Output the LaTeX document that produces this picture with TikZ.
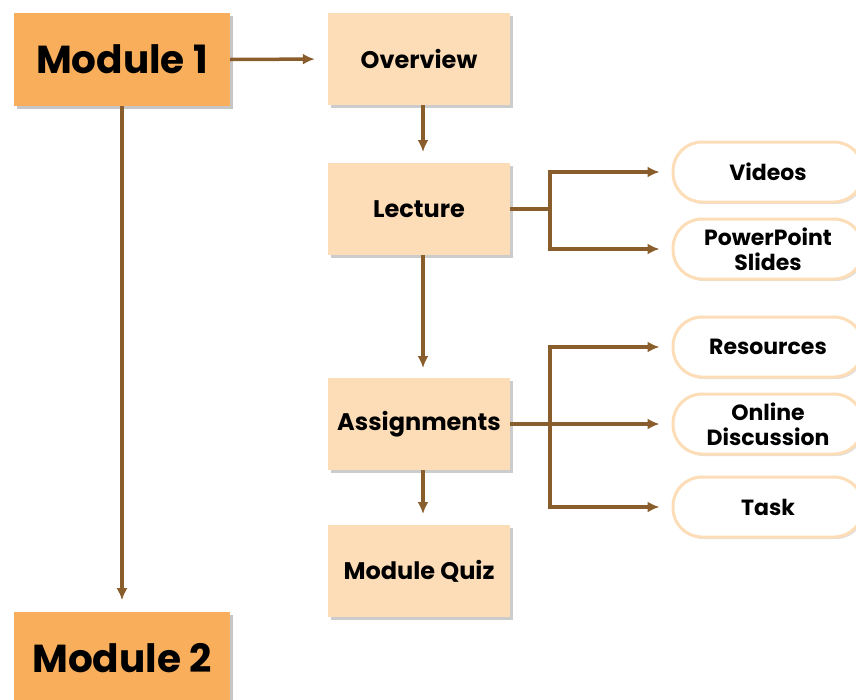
\documentclass[tikz,border=0pt]{standalone}
\usepackage{fontspec}
\setmainfont{Poppins}
\usetikzlibrary{arrows.meta,shadows}
\definecolor{modorange}{HTML}{F8AE5A}
\definecolor{peach}{HTML}{FDDDB7}
\definecolor{arrowbrown}{HTML}{8A5E2C}
\tikzset{
  modbox/.style={fill=modorange, minimum width=216pt, minimum height=93pt,
    font=\fontsize{39}{39}\selectfont\bfseries,
    drop shadow={shadow xshift=3pt, shadow yshift=-3pt, opacity=.45}},
  stepbox/.style={fill=peach, minimum width=182pt, minimum height=92pt,
    font=\fontsize{24}{24}\selectfont\bfseries,
    drop shadow={shadow xshift=3pt, shadow yshift=-3pt, opacity=.4}},
  pill/.style={draw=peach, line width=3pt, fill=white, rounded corners=29pt,
    minimum width=190pt, minimum height=60pt, align=center,
    font=\fontsize{22}{25}\selectfont\bfseries,
    drop shadow={shadow xshift=2pt, shadow yshift=-2pt, opacity=.25}},
  wire/.style={draw=arrowbrown, line width=3.5pt},
  link/.style={wire, -{Latex[length=12pt,width=11pt]}}
}
\begin{document}
\begin{tikzpicture}[x=1pt,y=-1pt]
  \useasboundingbox (0,0) rectangle (856,699);
  \begin{scope}
  \clip (0,0) rectangle (856,699);
  % modules
  \node[modbox] (mod1) at (122,59.5) {Module 1};
  \node[modbox] (mod2) at (122,658.5) {Module 2};
  % main steps
  \node[stepbox] (overview) at (419,59) {Overview};
  \node[stepbox] (lecture) at (419,209) {Lecture};
  \node[stepbox] (assign) at (419,424) {Assignments};
  \node[stepbox] (quiz) at (419,571) {Module Quiz};
  % side items
  \node[pill] (videos) at (768,172) {Videos};
  \node[pill] (slides) at (768,249) {PowerPoint\\Slides};
  \node[pill] (res) at (768,347) {Resources};
  \node[pill] (disc) at (768,424) {Online\\Discussion};
  \node[pill] (task) at (768,507) {Task};
  \end{scope}
  % arrows
  \draw[link, shorten >=13pt] (mod1.east) -- (overview.west);
  \draw[link] (mod1.south) -- ++(0,494);
  \draw[link] (overview.south -| 423,0) -- (423,152);
  \draw[link] (lecture.south -| 423,0) -- (423,368);
  \draw[link] (assign.south -| 423,0) -- (423,514);
  \coordinate (lj) at (550,209);
  \coordinate (aj) at (550,424);
  \draw[wire] (lecture.east) -- (lj);
  \draw[link, shorten >=12pt] (lj) |- (videos.west);
  \draw[link, shorten >=12pt] (lj) |- (slides.west);
  \draw[link, shorten >=12pt] (assign.east) -- (disc.west);
  \draw[link, shorten >=12pt] (aj) |- (res.west);
  \draw[link, shorten >=12pt] (aj) |- (task.west);
\end{tikzpicture}
\end{document}
